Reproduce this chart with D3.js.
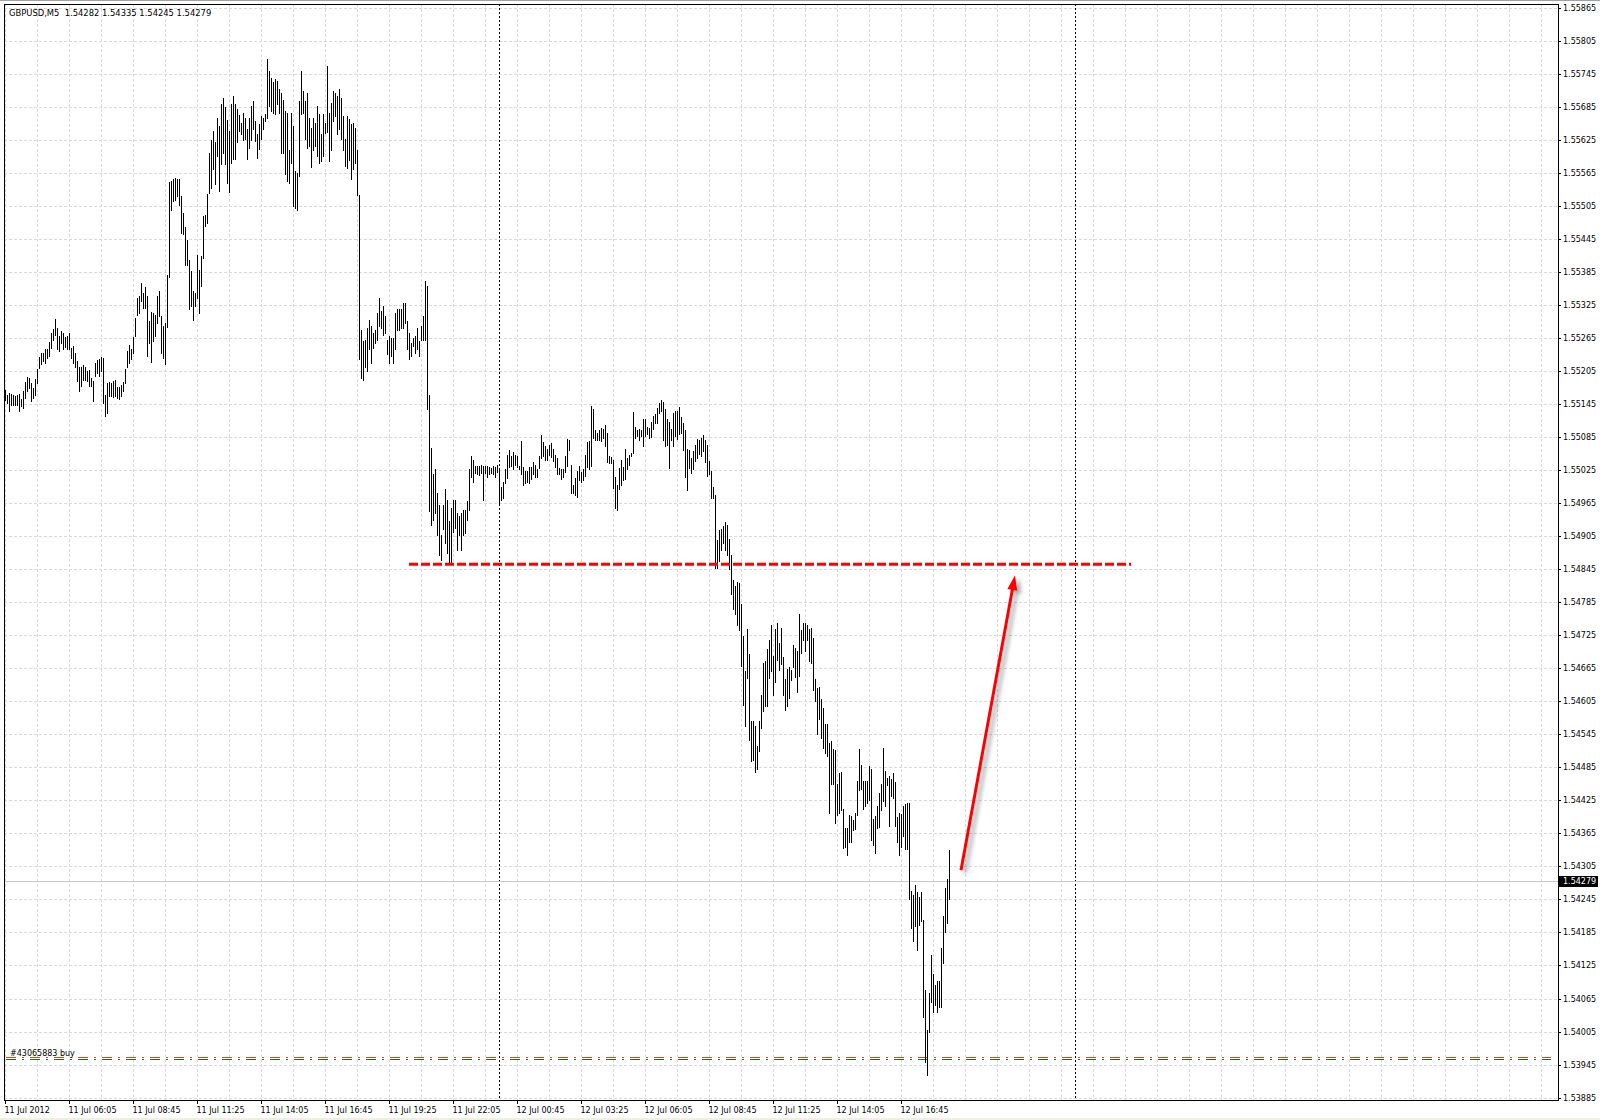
<!DOCTYPE html>
<html><head><meta charset="utf-8">
<script src="https://cdn.jsdelivr.net/npm/d3@7"></script>
<style>
html,body{margin:0;padding:0;background:#fff;}
svg{display:block;}
text{font-family:"DejaVu Sans",Tahoma,sans-serif;font-size:8px;fill:#000;}
</style></head><body>
<svg id="chart" width="1600" height="1120"></svg>
<script>
// ---------------- data ----------------
const symbol = "GBPUSD,M5";
const lastBar = [1.54282, 1.54335, 1.54245, 1.54279]; // open high low close
// 5-minute bars, 11 Jul 2012 03:25 -> 12 Jul 2012 18:45
const highs = [
1.55171,1.55162,1.55165,1.55164,1.55162,1.55160,1.55162,1.55164,1.55154,1.55168,
1.55184,1.55194,1.55192,1.55183,1.55174,1.55190,1.55209,1.55230,1.55237,1.55237,
1.55244,1.55244,1.55257,1.55274,1.55281,1.55300,1.55283,1.55269,1.55277,1.55274,
1.55267,1.55268,1.55273,1.55247,1.55250,1.55237,1.55223,1.55213,1.55213,1.55215,
1.55213,1.55204,1.55207,1.55192,1.55186,1.55220,1.55224,1.55227,1.55230,1.55229,
1.55162,1.55183,1.55184,1.55183,1.55186,1.55188,1.55176,1.55176,1.55180,1.55184,
1.55209,1.55241,1.55253,1.55244,1.55267,1.55301,1.55338,1.55341,1.55365,1.55347,
1.55358,1.55341,1.55295,1.55312,1.55310,1.55307,1.55341,1.55350,1.55304,1.55286,
1.55292,1.55380,1.55548,1.55550,1.55554,1.55556,1.55554,1.55553,1.55523,1.55492,
1.55467,1.55443,1.55407,1.55386,1.55350,1.55347,1.55415,1.55388,1.55413,1.55486,
1.55489,1.55526,1.55600,1.55625,1.55640,1.55620,1.55665,1.55650,1.55690,1.55700,
1.55685,1.55660,1.55640,1.55690,1.55705,1.55690,1.55680,1.55670,1.55655,1.55674,
1.55665,1.55644,1.55665,1.55686,1.55695,1.55659,1.55635,1.55653,1.55668,1.55665,
1.55671,1.55771,1.55750,1.55738,1.55729,1.55736,1.55732,1.55717,1.55710,1.55698,
1.55677,1.55674,1.55607,1.55674,1.55650,1.55568,1.55564,1.55695,1.55750,1.55713,
1.55695,1.55710,1.55665,1.55647,1.55665,1.55656,1.55686,1.55671,1.55635,1.55671,
1.55656,1.55759,1.55674,1.55692,1.55713,1.55710,1.55704,1.55717,1.55701,1.55668,
1.55626,1.55668,1.55662,1.55653,1.55656,1.55647,1.55607,1.55524,1.55280,1.55259,
1.55262,1.55283,1.55298,1.55286,1.55274,1.55280,1.55310,1.55338,1.55313,1.55323,
1.55304,1.55262,1.55268,1.55265,1.55265,1.55310,1.55317,1.55317,1.55317,1.55329,
1.55329,1.55295,1.55274,1.55256,1.55265,1.55268,1.55283,1.55259,1.55286,1.55304,
1.55368,1.55359,1.55162,1.55065,1.55017,1.55026,1.54983,1.54962,1.54907,1.54962,
1.54990,1.54970,1.54932,1.54956,1.54971,1.54971,1.54947,1.54941,1.54947,1.54953,
1.54953,1.54968,1.55027,1.55050,1.55043,1.55033,1.55033,1.55033,1.55035,1.55032,
1.55033,1.55032,1.55030,1.55029,1.55033,1.55030,1.55035,1.55026,1.54994,1.55003,
1.55026,1.55053,1.55061,1.55051,1.55057,1.55053,1.55051,1.55033,1.55077,1.55030,
1.55023,1.55024,1.55030,1.55030,1.55039,1.55035,1.55026,1.55051,1.55089,1.55075,
1.55069,1.55063,1.55071,1.55074,1.55063,1.55053,1.55047,1.55029,1.55026,1.55027,
1.55050,1.55081,1.55080,1.55035,1.54998,1.55010,1.55024,1.55033,1.55021,1.55027,
1.55053,1.55075,1.55077,1.55142,1.55136,1.55098,1.55093,1.55098,1.55101,1.55100,
1.55107,1.55092,1.55051,1.55049,1.55044,1.55013,1.54998,1.55029,1.55044,1.55030,
1.55063,1.55047,1.55053,1.55056,1.55130,1.55104,1.55098,1.55100,1.55098,1.55117,
1.55118,1.55104,1.55101,1.55112,1.55123,1.55126,1.55138,1.55147,1.55153,1.55148,
1.55136,1.55117,1.55113,1.55100,1.55129,1.55133,1.55133,1.55140,1.55121,1.55110,
1.55098,1.55063,1.55062,1.55047,1.55059,1.55071,1.55081,1.55079,1.55083,1.55089,
1.55080,1.55071,1.55041,1.55023,1.54995,1.54980,1.54898,1.54916,1.54917,1.54923,
1.54930,1.54925,1.54900,1.54870,1.54826,1.54815,1.54821,1.54820,1.54781,1.54724,
1.54660,1.54737,1.54690,1.54569,1.54569,1.54560,1.54524,1.54569,1.54617,1.54675,
1.54678,1.54700,1.54717,1.54744,1.54688,1.54737,1.54747,1.54710,1.54738,1.54686,
1.54646,1.54663,1.54667,1.54661,1.54708,1.54702,1.54696,1.54763,1.54735,1.54747,
1.54747,1.54743,1.54737,1.54738,1.54720,1.54646,1.54629,1.54631,1.54609,1.54593,
1.54564,1.54564,1.54530,1.54532,1.54518,1.54517,1.54455,1.54475,1.54476,1.54409,
1.54375,1.54375,1.54399,1.54396,1.54389,1.54402,1.54460,1.54518,1.54490,1.54460,
1.54460,1.54460,1.54488,1.54482,1.54391,1.54397,1.54415,1.54438,1.54455,1.54520,
1.54478,1.54466,1.54469,1.54463,1.54475,1.54458,1.54395,1.54402,1.54401,1.54414,
1.54419,1.54421,1.54420,1.54260,1.54253,1.54272,1.54258,1.54250,1.54258,1.54208,
1.54080,1.54008,1.54075,1.54144,1.54110,1.54090,1.54096,1.54096,1.54157,1.54214,
1.54265,1.54282,1.54335
];
const lows = [
1.55153,1.55147,1.55132,1.55144,1.55144,1.55144,1.55144,1.55132,1.55141,1.55138,
1.55156,1.55168,1.55174,1.55150,1.55156,1.55162,1.55183,1.55210,1.55217,1.55223,
1.55220,1.55229,1.55232,1.55247,1.55262,1.55271,1.55244,1.55241,1.55256,1.55244,
1.55249,1.55245,1.55244,1.55229,1.55220,1.55213,1.55186,1.55168,1.55177,1.55189,
1.55189,1.55186,1.55177,1.55177,1.55150,1.55195,1.55201,1.55195,1.55204,1.55147,
1.55123,1.55129,1.55159,1.55159,1.55158,1.55159,1.55156,1.55154,1.55159,1.55168,
1.55183,1.55213,1.55220,1.55226,1.55237,1.55268,1.55307,1.55310,1.55332,1.55320,
1.55320,1.55232,1.55256,1.55221,1.55259,1.55268,1.55292,1.55304,1.55238,1.55229,
1.55217,1.55285,1.55376,1.55497,1.55513,1.55515,1.55523,1.55507,1.55456,1.55453,
1.55398,1.55398,1.55317,1.55323,1.55297,1.55323,1.55338,1.55310,1.55359,1.55410,
1.55469,1.55473,1.55529,1.55538,1.55571,1.55544,1.55595,1.55532,1.55580,1.55601,
1.55580,1.55547,1.55530,1.55583,1.55590,1.55590,1.55620,1.55640,1.55635,1.55624,
1.55626,1.55590,1.55610,1.55624,1.55644,1.55623,1.55592,1.55609,1.55627,1.55644,
1.55659,1.55665,1.55686,1.55677,1.55674,1.55671,1.55689,1.55674,1.55601,1.55601,
1.55562,1.55550,1.55547,1.55583,1.55504,1.55501,1.55498,1.55559,1.55671,1.55674,
1.55626,1.55610,1.55613,1.55576,1.55607,1.55613,1.55595,1.55583,1.55586,1.55595,
1.55638,1.55639,1.55586,1.55607,1.55659,1.55668,1.55635,1.55644,1.55626,1.55607,
1.55577,1.55574,1.55589,1.55553,1.55571,1.55583,1.55524,1.55226,1.55192,1.55189,
1.55213,1.55204,1.55244,1.55220,1.55247,1.55256,1.55262,1.55286,1.55283,1.55271,
1.55274,1.55235,1.55220,1.55232,1.55220,1.55244,1.55280,1.55280,1.55283,1.55283,
1.55292,1.55244,1.55226,1.55232,1.55250,1.55238,1.55244,1.55232,1.55262,1.55262,
1.55262,1.55135,1.54950,1.54926,1.54935,1.54947,1.54907,1.54871,1.54862,1.54917,
1.54892,1.54874,1.54856,1.54856,1.54913,1.54920,1.54880,1.54907,1.54880,1.54907,
1.54910,1.54935,1.54953,1.55013,1.55004,1.55020,1.55018,1.55016,1.55020,1.54971,
1.55020,1.55013,1.55017,1.55020,1.55017,1.55013,1.55021,1.54966,1.54970,1.54974,
1.55001,1.55010,1.55030,1.55033,1.55026,1.55035,1.55030,1.55026,1.55018,1.54997,
1.55001,1.55004,1.55001,1.55009,1.55018,1.55012,1.55013,1.55029,1.55047,1.55050,
1.55043,1.55044,1.55053,1.55049,1.55041,1.55030,1.55018,1.55017,1.55009,1.55012,
1.55021,1.55033,1.55062,1.54984,1.54983,1.54980,1.54976,1.55007,1.55004,1.55007,
1.55015,1.55030,1.55027,1.55033,1.55083,1.55080,1.55079,1.55080,1.55077,1.55083,
1.55068,1.55039,1.55038,1.55037,1.54992,1.54956,1.54952,1.54990,1.54998,1.55007,
1.55009,1.55026,1.55035,1.55051,1.55056,1.55083,1.55086,1.55079,1.55086,1.55069,
1.55087,1.55091,1.55083,1.55085,1.55100,1.55110,1.55110,1.55129,1.55132,1.55080,
1.55068,1.55071,1.55029,1.55080,1.55068,1.55086,1.55081,1.55091,1.55093,1.55061,
1.55013,1.54988,1.55029,1.55020,1.55027,1.55041,1.55047,1.55055,1.55050,1.55059,
1.55039,1.55015,1.55017,1.54974,1.54974,1.54847,1.54847,1.54859,1.54880,1.54892,
1.54880,1.54870,1.54845,1.54800,1.54773,1.54763,1.54744,1.54735,1.54669,1.54599,
1.54560,1.54647,1.54534,1.54496,1.54499,1.54476,1.54481,1.54514,1.54557,1.54587,
1.54596,1.54596,1.54647,1.54660,1.54617,1.54640,1.54680,1.54661,1.54672,1.54617,
1.54589,1.54596,1.54611,1.54644,1.54667,1.54649,1.54621,1.54650,1.54692,1.54717,
1.54696,1.54716,1.54678,1.54675,1.54626,1.54605,1.54546,1.54573,1.54538,1.54520,
1.54511,1.54506,1.54402,1.54455,1.54455,1.54384,1.54399,1.54402,1.54408,1.54338,
1.54341,1.54326,1.54350,1.54349,1.54372,1.54373,1.54399,1.54444,1.54446,1.54410,
1.54414,1.54420,1.54425,1.54353,1.54344,1.54329,1.54375,1.54377,1.54408,1.54423,
1.54414,1.54453,1.54379,1.54432,1.54429,1.54379,1.54350,1.54326,1.54341,1.54360,
1.54337,1.54337,1.54246,1.54193,1.54169,1.54196,1.54153,1.54199,1.54205,1.54032,
1.53950,1.53926,1.54004,1.54058,1.54041,1.54054,1.54041,1.54050,1.54050,1.54129,
1.54185,1.54203,1.54245
];
const yTicks = [1.53885,1.53945,1.54005,1.54065,1.54125,1.54185,1.54245,1.54305,1.54365,1.54425,
1.54485,1.54545,1.54605,1.54665,1.54725,1.54785,1.54845,1.54905,1.54965,1.55025,1.55085,1.55145,
1.55205,1.55265,1.55325,1.55385,1.55445,1.55505,1.55565,1.55625,1.55685,1.55745,1.55805,1.55865];
const tickBars = [0,32,64,96,128,160,192,224,256,288,320,352,384,416,448];
const tickLabels = ["11 Jul 2012","11 Jul 06:05","11 Jul 08:45","11 Jul 11:25","11 Jul 14:05",
"11 Jul 16:45","11 Jul 19:25","11 Jul 22:05","12 Jul 00:45","12 Jul 03:25","12 Jul 06:05",
"12 Jul 08:45","12 Jul 11:25","12 Jul 14:05","12 Jul 16:45"];
const daySeparators = [247, 535];       // 12 Jul 00:00, 13 Jul 00:00
const gridEveryBars = 16;
const levelLine = [1.54854, 202, 563];  // price, from bar, to bar
const arrowFrom = [478, 1.54298];       // bar, price
const arrowTo = [505, 1.54834];
const orderLabel = "#43065883 buy";
const orderStop = 1.53958;
const orderOpen = 1.53955;

// ---------------- drawing ----------------
const svg = d3.select("#chart");
const L = 4, T = 4, R = 1558, B = 1100;
const x = d3.scaleLinear().domain([0, 776]).rangeRound([5, 1557]);
const y = d3.scaleLinear().domain([1.53885, 1.55865]).range([1097.6, 7.6]);
const yr = v => Math.round(y(v));

svg.append("rect").attr("width",1600).attr("height",1120).attr("fill","#fff");
svg.append("rect").attr("x",0).attr("y",1118).attr("width",1600).attr("height",2).attr("fill","#f1efe2");
svg.append("line").attr("x1",0).attr("x2",1600).attr("y1",0.5).attr("y2",0.5).attr("stroke","#a0a0a0");

const defs = svg.append("defs");
defs.append("clipPath").attr("id","plot").append("rect")
  .attr("x",L+1).attr("y",T+1).attr("width",R-L-1).attr("height",B-T-1);
const f = defs.append("filter").attr("id","shadow").attr("x","-50%").attr("y","-50%").attr("width","200%").attr("height","200%");
f.append("feDropShadow").attr("dx",4).attr("dy",3).attr("stdDeviation",2.2)
  .attr("flood-color","#000").attr("flood-opacity",0.35);

const plot = svg.append("g").attr("clip-path","url(#plot)");

// grid
const gridBars = d3.range(0, 777, gridEveryBars);
plot.append("g").selectAll("line").data(gridBars).join("line")
  .attr("x1",d=>x(d)+0.5).attr("x2",d=>x(d)+0.5).attr("y1",T).attr("y2",B)
  .attr("stroke","#d9d9d9").attr("stroke-dasharray","3,2").attr("shape-rendering","crispEdges");
plot.append("g").selectAll("line").data(yTicks).join("line")
  .attr("x1",L).attr("x2",R).attr("y1",d=>yr(d)+0.5).attr("y2",d=>yr(d)+0.5)
  .attr("stroke","#d9d9d9").attr("stroke-dasharray","3,2").attr("shape-rendering","crispEdges");

// day separators
plot.append("g").selectAll("line").data(daySeparators).join("line")
  .attr("x1",d=>x(d)+0.5).attr("x2",d=>x(d)+0.5).attr("y1",T).attr("y2",B)
  .attr("stroke","#000").attr("stroke-dasharray","2,2").attr("shape-rendering","crispEdges");

// last price line
plot.append("line").attr("x1",L).attr("x2",R)
  .attr("y1",yr(lastBar[3])+0.5).attr("y2",yr(lastBar[3])+0.5)
  .attr("stroke","#c8c8c8").attr("shape-rendering","crispEdges");

// order lines
plot.append("line").attr("x1",x(0)+1).attr("x2",R-7)
  .attr("y1",yr(orderStop)+0.5).attr("y2",yr(orderStop)+0.5)
  .attr("stroke","#f03c1e").attr("stroke-dasharray","10,6,2,6").attr("shape-rendering","crispEdges");
plot.append("line").attr("x1",x(0)+1).attr("x2",R-7)
  .attr("y1",yr(orderOpen)+0.5).attr("y2",yr(orderOpen)+0.5)
  .attr("stroke","#008000").attr("stroke-dasharray","10,6,2,6").attr("shape-rendering","crispEdges");
plot.append("text").attr("x",x(0)+5).attr("y",yr(orderStop)-1.5).text(orderLabel);

// bars
plot.append("g").selectAll("rect").data(highs).join("rect")
  .attr("x",(d,i)=>x(i)).attr("width",1)
  .attr("y",d=>yr(d))
  .attr("height",(d,i)=>Math.max(1, yr(lows[i]) - yr(d) + 1))
  .attr("fill","#000").attr("shape-rendering","crispEdges");

// level line
plot.append("line").attr("x1",x(levelLine[1])).attr("x2",x(levelLine[2]))
  .attr("y1",y(levelLine[0])).attr("y2",y(levelLine[0]))
  .attr("stroke","#ff0000").attr("stroke-width",3).attr("stroke-dasharray","9,3");

// arrow
const ax1 = x(arrowFrom[0]), ay1 = y(arrowFrom[1]), ax2 = x(arrowTo[0]), ay2 = y(arrowTo[1]);
const ang = Math.atan2(ay2-ay1, ax2-ax1), hl = 15, hw = 5;
const bx = ax2 - hl*Math.cos(ang), by = ay2 - hl*Math.sin(ang);
const ga = plot.append("g").attr("filter","url(#shadow)");
ga.append("line").attr("x1",ax1).attr("y1",ay1).attr("x2",bx+2*Math.cos(ang)).attr("y2",by+2*Math.sin(ang))
  .attr("stroke","#ff0000").attr("stroke-width",3);
ga.append("path").attr("d",`M${ax2},${ay2}L${bx - hw*Math.sin(ang)},${by + hw*Math.cos(ang)}L${bx + hw*Math.sin(ang)},${by - hw*Math.cos(ang)}Z`)
  .attr("fill","#ff0000");

// frame
svg.append("rect").attr("x",L+0.5).attr("y",T+0.5).attr("width",R-L).attr("height",B-T)
  .attr("fill","none").attr("stroke","#000").attr("shape-rendering","crispEdges");

// y axis
const yAxis = d3.axisRight(y.copy().interpolate(d3.interpolateRound)).tickValues(yTicks).tickSize(3).tickSizeOuter(0)
  .tickFormat(d3.format(".5f"));
const gy = svg.append("g").attr("transform",`translate(${R},0)`).call(yAxis);
gy.select(".domain").remove();
gy.selectAll("text").attr("x",5).attr("font-family",null).attr("font-size",null);

// price box
const py = yr(lastBar[3]);
svg.append("rect").attr("x",R+1).attr("y",py-5).attr("width",39).attr("height",11).attr("fill","#000");
svg.append("text").attr("x",R+5).attr("y",py+0.5).attr("dy","0.32em").style("fill","#fff")
  .text(lastBar[3].toFixed(5));

// x axis
const xAxis = d3.axisBottom(x).tickValues(tickBars).tickSize(4).tickSizeOuter(0)
  .tickFormat((d,i)=>tickLabels[i]);
const gx = svg.append("g").attr("transform",`translate(0,${B})`).call(xAxis);
gx.select(".domain").remove();
gx.selectAll("text").attr("text-anchor","start").attr("x",-1).attr("font-family",null).attr("font-size",null);

// title
svg.append("text").attr("x",9).attr("y",15.5).style("white-space","pre").style("font-size","8.4px")
  .text(`${symbol}  ${lastBar.map(v=>v.toFixed(5)).join(" ")}`);
</script>
</body></html>
